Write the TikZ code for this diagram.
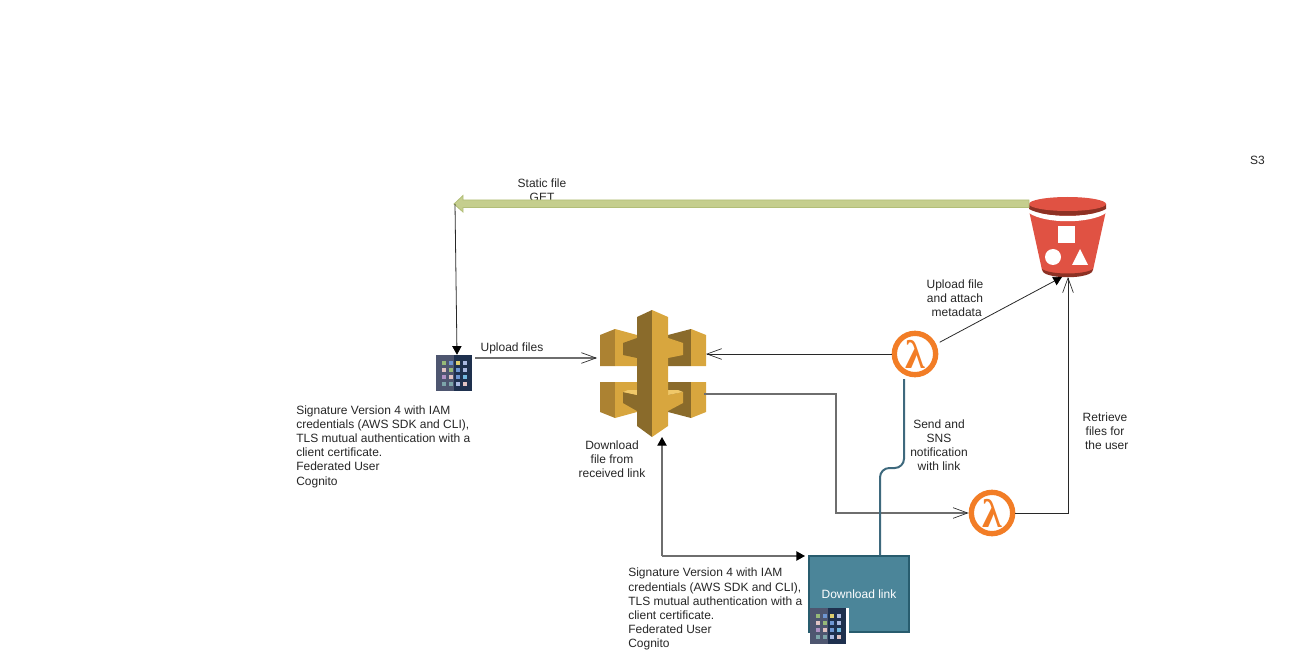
\documentclass[tikz,border=0pt]{standalone}
\usepackage{fontspec}
\setmainfont{Liberation Sans}
\newfontfamily\lambdafont{Liberation Serif}
\usetikzlibrary{arrows.meta,calc}
\definecolor{linegray}  {RGB}{110,110,110}
\definecolor{linedark}  {RGB}{ 40, 40, 40}
\definecolor{staticfill}{RGB}{197,206,142}
\definecolor{staticline}{RGB}{178,190,120}
\definecolor{linkfill}  {RGB}{ 75,133,153}
\definecolor{linkdraw}  {RGB}{ 40, 92,110}
\definecolor{linkline}  {RGB}{ 62,105,125}
\definecolor{lambdaorg} {RGB}{242,125, 38}
\definecolor{bucketred} {RGB}{224, 82, 67}
\definecolor{bucketdark}{RGB}{140, 49, 36}
\definecolor{gatelight} {RGB}{216,166, 62}
\definecolor{gatemid}   {RGB}{172,130, 50}
\definecolor{gatedark}  {RGB}{138,107, 43}
\definecolor{gatetop}   {RGB}{240,200,105}
\definecolor{tabletl}   {RGB}{ 78, 86,112}
\definecolor{tabletr}   {RGB}{ 30, 48, 78}
\definecolor{dotgreen}  {RGB}{150,185,120}
\definecolor{dotblue}   {RGB}{110,150,210}
\definecolor{dotyellow} {RGB}{220,205,110}
\definecolor{dotpale}   {RGB}{170,185,225}
\definecolor{dotpink}   {RGB}{225,195,195}
\definecolor{dotviolet} {RGB}{175,145,195}
\definecolor{dotcyan}   {RGB}{115,185,225}
\definecolor{dotteal}   {RGB}{125,165,170}
\tikzset{
  %% text labels
  lbl/.style={font=\fontsize{9pt}{10.6pt}\selectfont, align=center, text=black!85, inner sep=0pt},
  lblleft/.style={lbl, align=left, anchor=north west},
  %% connectors
  openline/.style={draw=linedark, line width=0.6pt, -{Straight Barb[length=11pt,width=8pt,line width=0.5pt]}},
  openthick/.style={draw=linegray, line width=1pt, -{Straight Barb[length=11pt,width=8pt,line width=0.5pt,color=linedark]}},
  fillline/.style={draw=linedark, line width=0.6pt, -{Triangle[length=6.5pt,width=7pt,color=black]}},
  fillthick/.style={draw=linegray, line width=1pt, -{Triangle[length=6.5pt,width=7pt,color=black]}},
  %% icon holders
  iconbox/.style={inner sep=0pt, minimum width=#1, minimum height=#1},
  linkbox/.style={rectangle, fill=linkfill, draw=linkdraw, line width=1pt,
    minimum width=75pt, minimum height=57pt, inner sep=0pt,
    text=white, font=\fontsize{9pt}{10.6pt}\selectfont},
  lambdaring/.style={circle, draw=lambdaorg, fill=white, line width=4pt,
    minimum size=31pt, inner sep=0pt, text=lambdaorg,
    font=\lambdafont\fontsize{30pt}{30pt}\selectfont\bfseries},
}
%% tablet icon, #1 = x, #2 = y of the centre
\newcommand{\tableticon}[2]{%
  \begin{scope}[shift={(#1,#2)}]
    \fill[tabletl] (-18,-18) rectangle (0,18);
    \fill[tabletr] (0,-18) rectangle (18,18);
    \foreach \ptx/\pty/\ptc in {
      -10.5/-10.5/dotgreen, -3.5/-10.5/dotblue, 3.5/-10.5/dotyellow, 10.5/-10.5/dotpale,
      -10.5/-3.5/dotpink, -3.5/-3.5/dotgreen, 3.5/-3.5/dotblue, 10.5/-3.5/dotpale,
      -10.5/3.5/dotviolet, -3.5/3.5/dotpink, 3.5/3.5/dotblue, 10.5/3.5/dotcyan,
      -10.5/10.5/dotteal, -3.5/10.5/dotteal, 3.5/10.5/dotpale, 10.5/10.5/dotpink}{
      \fill[\ptc] (\ptx-2,\pty-2) rectangle (\ptx+2,\pty+2);
    }
  \end{scope}%
}

\begin{document}
\begin{tikzpicture}[x=0.75pt, y=-0.75pt, line join=miter]
  \useasboundingbox (0,0) rectangle (1299,670);

  %% ---- API gateway icon ----
  % upper left block
  \fill[gatemid] (600,335) -- (615,329) -- (615,366) -- (600,366) -- cycle;
  \fill[gatelight] (615,329) -- (637,335) -- (637,366) -- (615,366) -- cycle;
  \fill[gatedark] (623,343) -- (637,338) -- (637,358) -- (623,355) -- cycle;
  % upper right block
  \fill[gatedark] (668,335) -- (691,329) -- (691,366) -- (668,366) -- cycle;
  \fill[gatelight] (691,329) -- (706,335) -- (706,366) -- (691,366) -- cycle;
  \fill[gatelight] (668,338) -- (683,343) -- (683,355) -- (668,358) -- cycle;
  % lower left block
  \fill[gatemid] (600,382) -- (615,382) -- (615,418) -- (600,412) -- cycle;
  \fill[gatelight] (615,382) -- (637,382) -- (637,412) -- (615,418) -- cycle;
  \fill[gatedark] (623,392) -- (637,395) -- (637,411) -- (623,403) -- cycle;
  \fill[gatetop] (623,392) -- (628,390) -- (637,390) -- (637,395) -- cycle;
  % lower right block
  \fill[gatedark] (668,382) -- (691,382) -- (691,418) -- (668,412) -- cycle;
  \fill[gatelight] (691,382) -- (706,382) -- (706,412) -- (691,418) -- cycle;
  \fill[gatelight] (668,395) -- (683,392) -- (683,403) -- (668,411) -- cycle;
  \fill[gatetop] (668,390) -- (678,390) -- (683,392) -- (668,395) -- cycle;
  % centre column
  \fill[gatedark] (637,317) -- (652,310) -- (652,437) -- (637,426) -- cycle;
  \fill[gatelight] (652,310) -- (668,317) -- (668,426) -- (652,437) -- cycle;
  \node[iconbox=80pt] (gateway) at (653,374) {};

  %% ---- S3 bucket icon ----
  \fill[bucketred] (1029.5,213) -- (1105.5,213) -- (1093,270) .. controls (1085,279) and (1050,279) .. (1042,270) -- cycle;
  \fill[bucketdark] (1042,269) .. controls (1050,275) and (1085,275) .. (1093,269) -- (1092,272) .. controls (1085,279) and (1050,279) .. (1043,272) -- cycle;
  \fill[white] (1029,209) .. controls (1045,218) and (1090,218) .. (1106,209) -- (1106,213) .. controls (1090,224) and (1045,224) .. (1029,213) -- cycle;
  \fill[bucketdark] (1029,204) -- (1029,209) .. controls (1045,218) and (1090,218) .. (1106,209) -- (1106,204) -- cycle;
  \fill[bucketred] (1067.5,204) ellipse [x radius=38.5, y radius=7];
  \fill[white] (1058,226) rectangle (1075,243);
  \fill[white] (1053,257) circle [radius=8];
  \fill[white] (1080,249) -- (1088,265) -- (1072,265) -- cycle;
  \node[iconbox=58pt] (bucket) at (1067.5,238) {};

  %% ---- remaining nodes ----
  \tableticon{454}{373}
  \node[iconbox=27pt] (tabletleft) at (454,373) {};
  \node[lambdaring] (lambdaup) at (915,354) {λ};
  \node[lambdaring] (lambdadown) at (992,513) {λ};
  \node[linkbox] (linkbox) at (859,594) {Download link};
  \fill[white] (810,608) rectangle (849,645);
  \tableticon{828}{626}
  \node[iconbox=27pt] (tabletlink) at (828,626) {};

  \coordinate (staticend) at (455,204);
  \coordinate (cornerdown) at (662,556);

  %% ---- connectors ----
  \node[lbl] (lblstatic) at (542,190) {Static file\\GET};
  \draw[draw=staticline, fill=staticfill, line width=0.6pt]
    (1029,200) -- (463,200) -- (463,195.5) -- (454,204) -- (463,212) -- (463,207.5) -- (1029,207.5) -- cycle;
  \draw[fillline] (staticend) -- (tabletleft.north -| 457,0);
  \draw[openthick] (475,358) -- (597,358);
  \draw[openline] (lambdaup.west) -- (706,354);
  \draw[fillline, shorten <=3pt] (lambdaup.25) -- (1062,277);
  \draw[openthick] (704,394) -- (836,394) -- (836,513) -- (lambdadown.west);
  \draw[openline] (lambdadown.east) -- (1068,513) -- (1068,277);
  \draw[draw=linkline, line width=1.5pt, rounded corners=7pt]
    (linkbox.north -| 880,0) -- (880,468) -- (904,468) -- (904,379);
  \draw[fillthick] (cornerdown) -- (662,437);
  \draw[fillthick] (cornerdown) -- (805,556);

  %% ---- labels ----
  \node[lbl] (lblupload) at (512,348) {Upload files};
  \node[lbl] (lblmeta) at (955,298) {Upload file\\and attach\\\ metadata};
  \node[lbl] (lblsend) at (939,445) {Send and\\SNS\\notification\\with link};
  \node[lbl] (lblretrieve) at (1105,431) {Retrieve\\files for\\\ the user};
  \node[lbl] (lbldown) at (612,459) {Download\\file from\\received link};
  \node[lbl] (lblsthree) at (1257.5,160) {S3};
  \node[lblleft] (lblsigleft) at (296,405.5) {Signature Version 4 with IAM\\credentials (AWS SDK and CLI),\\TLS mutual authentication with a\\client certificate.\\Federated User\\Cognito};
  \node[lblleft] (lblsiglink) at (628,568) {Signature Version 4 with IAM\\credentials (AWS SDK and CLI),\\TLS mutual authentication with a\\client certificate.\\Federated User\\Cognito};
\end{tikzpicture}
\end{document}
